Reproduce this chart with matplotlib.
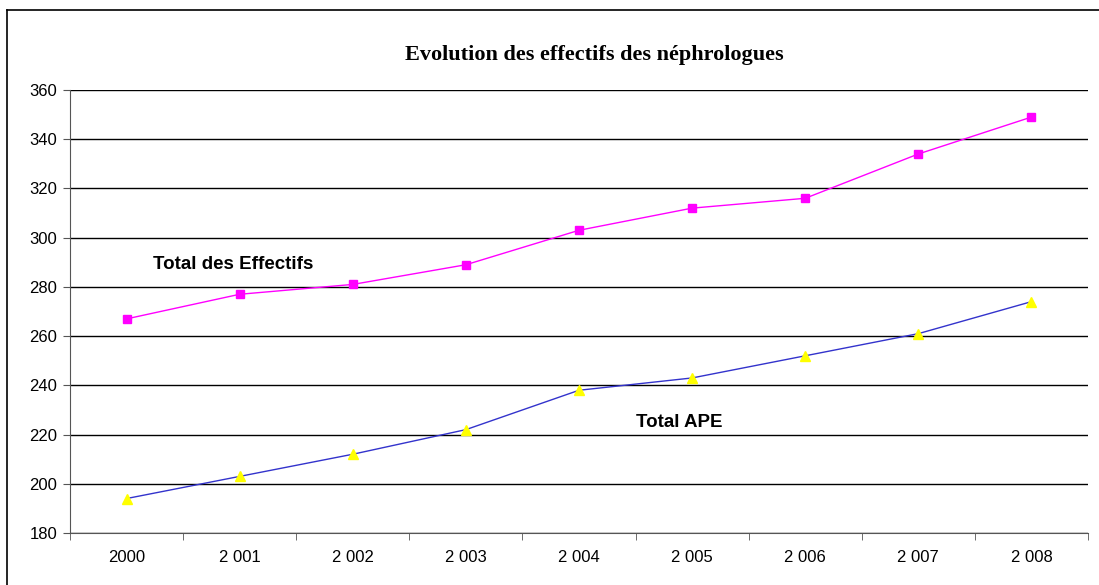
import numpy as np
import matplotlib
matplotlib.use("Agg")
import matplotlib.pyplot as plt
from matplotlib.lines import Line2D

years = ["2000", "2 001", "2 002", "2 003", "2 004", "2 005", "2 006", "2 007", "2 008"]
total_effectifs = [267, 277, 281, 289, 303, 312, 316, 334, 349]
total_ape = [194, 203, 212, 222, 238, 243, 252, 261, 274]

plt.rcParams['font.family'] = ['Liberation Sans', 'DejaVu Sans']

fig = plt.figure(figsize=(10.99, 5.85), dpi=100)
ax = fig.add_axes([70/1099, 1-533/585, (1088-70)/1099, (533-90)/585])

x = np.arange(len(years))
ax.plot(x, total_effectifs, color="#FF00FF", lw=1, marker="s", ms=6,
        mfc="#FF00FF", mec="#FF00FF", zorder=3)
ax.plot(x, total_ape, color="#3333CC", lw=1, marker="^", ms=7.5,
        mfc="#FFFF00", mec="#FFFF00", zorder=3)

ax.set_xlim(-0.5, len(years)-0.5)
ax.set_ylim(180, 360)
ax.set_yticks(np.arange(180, 361, 20))
ax.set_xticks(x)
ax.set_xticklabels(years)
ax.set_xticks(np.arange(-0.5, len(years), 1), minor=True)
ax.tick_params(axis='x', which='major', length=0, pad=12, labelsize=12)
ax.tick_params(axis='x', which='minor', length=5, color="#555555")
ax.tick_params(axis='y', length=5, color="#555555", labelsize=12, pad=4)
ax.grid(axis='y', color="black", lw=1)
ax.set_axisbelow(True)
for s in ['top', 'right']:
    ax.spines[s].set_visible(False)
for s in ['left', 'bottom']:
    ax.spines[s].set_color("#555555")

ax.text(0.235, 289.3, "Total des Effectifs", fontsize=13.5, fontweight='bold', va='center')
ax.text(4.5, 224.9, "Total APE", fontsize=13.5, fontweight='bold', va='center')

fig.text(594/1099, 1-55/585, "Evolution des effectifs des néphrologues",
         ha='center', va='center', fontsize=16, fontweight='bold',
         family=['Liberation Serif', 'DejaVu Serif'])

# frame around the chart
fig.add_artist(Line2D([7/1099, 1], [1-10/585, 1-10/585], color="black", lw=1.2))
fig.add_artist(Line2D([7/1099, 7/1099], [0, 1-10/585], color="black", lw=1.2))

fig.savefig("out.png", dpi=100)
